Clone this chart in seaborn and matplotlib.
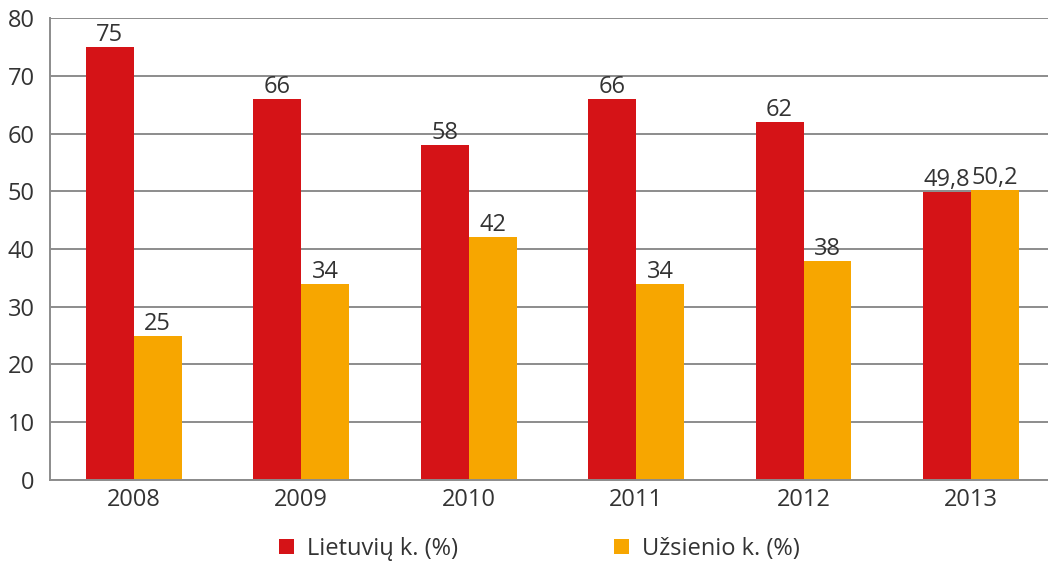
import pandas as pd
import matplotlib.pyplot as plt
import seaborn as sns

years = ["2008", "2009", "2010", "2011", "2012", "2013"]
lietuviu = [75, 66, 58, 66, 62, 49.8]
uzsienio = [25, 34, 42, 34, 38, 50.2]
series_names = ["Lietuvių k. (%)", "Užsienio k. (%)"]
colors = ["#D51317", "#F7A600"]

df = pd.DataFrame({
    "year": years * 2,
    "value": lietuviu + uzsienio,
    "series": [series_names[0]] * len(years) + [series_names[1]] * len(years),
})

sns.set_style("white")
plt.rcParams["font.family"] = ["Open Sans", "DejaVu Sans"]
text_color = "#333333"
fs = 17

fig = plt.figure(figsize=(10.48, 5.64), dpi=100)
ax = fig.add_axes([0.0477, 0.149, 0.9523, 0.819])

sns.barplot(data=df, x="year", y="value", hue="series", palette=colors,
            width=0.573, saturation=1, linewidth=0, ax=ax, legend=True)

ax.set_ylim(0, 80)
ax.set_xlim(-0.5, 5.46)
ax.set_yticks(range(0, 81, 10))
ax.yaxis.grid(True, color="#8c8c8c", linewidth=1.4)
ax.set_axisbelow(True)
for s in ["top", "right"]:
    ax.spines[s].set_visible(False)
for s in ["left", "bottom"]:
    ax.spines[s].set_color("#8c8c8c")
    ax.spines[s].set_linewidth(1.4)
ax.tick_params(axis="both", length=0, labelsize=fs, colors=text_color)
ax.tick_params(axis="x", pad=6)
ax.tick_params(axis="y", pad=11)
ax.set_xlabel("")
ax.set_ylabel("")

for cont in ax.containers:
    labels = [f"{v:g}".replace(".", ",") for v in cont.datavalues]
    ax.bar_label(cont, labels=labels, fontsize=fs, color=text_color, padding=0)

leg = ax.legend(loc="center", bbox_to_anchor=(0.515, 0.027), bbox_transform=fig.transFigure,
                ncol=2, frameon=False, fontsize=fs, columnspacing=6.6,
                handlelength=0.64, handleheight=0.64, handletextpad=0.55)
for t in leg.get_texts():
    t.set_color(text_color)

fig.savefig("out.png", dpi=100)
